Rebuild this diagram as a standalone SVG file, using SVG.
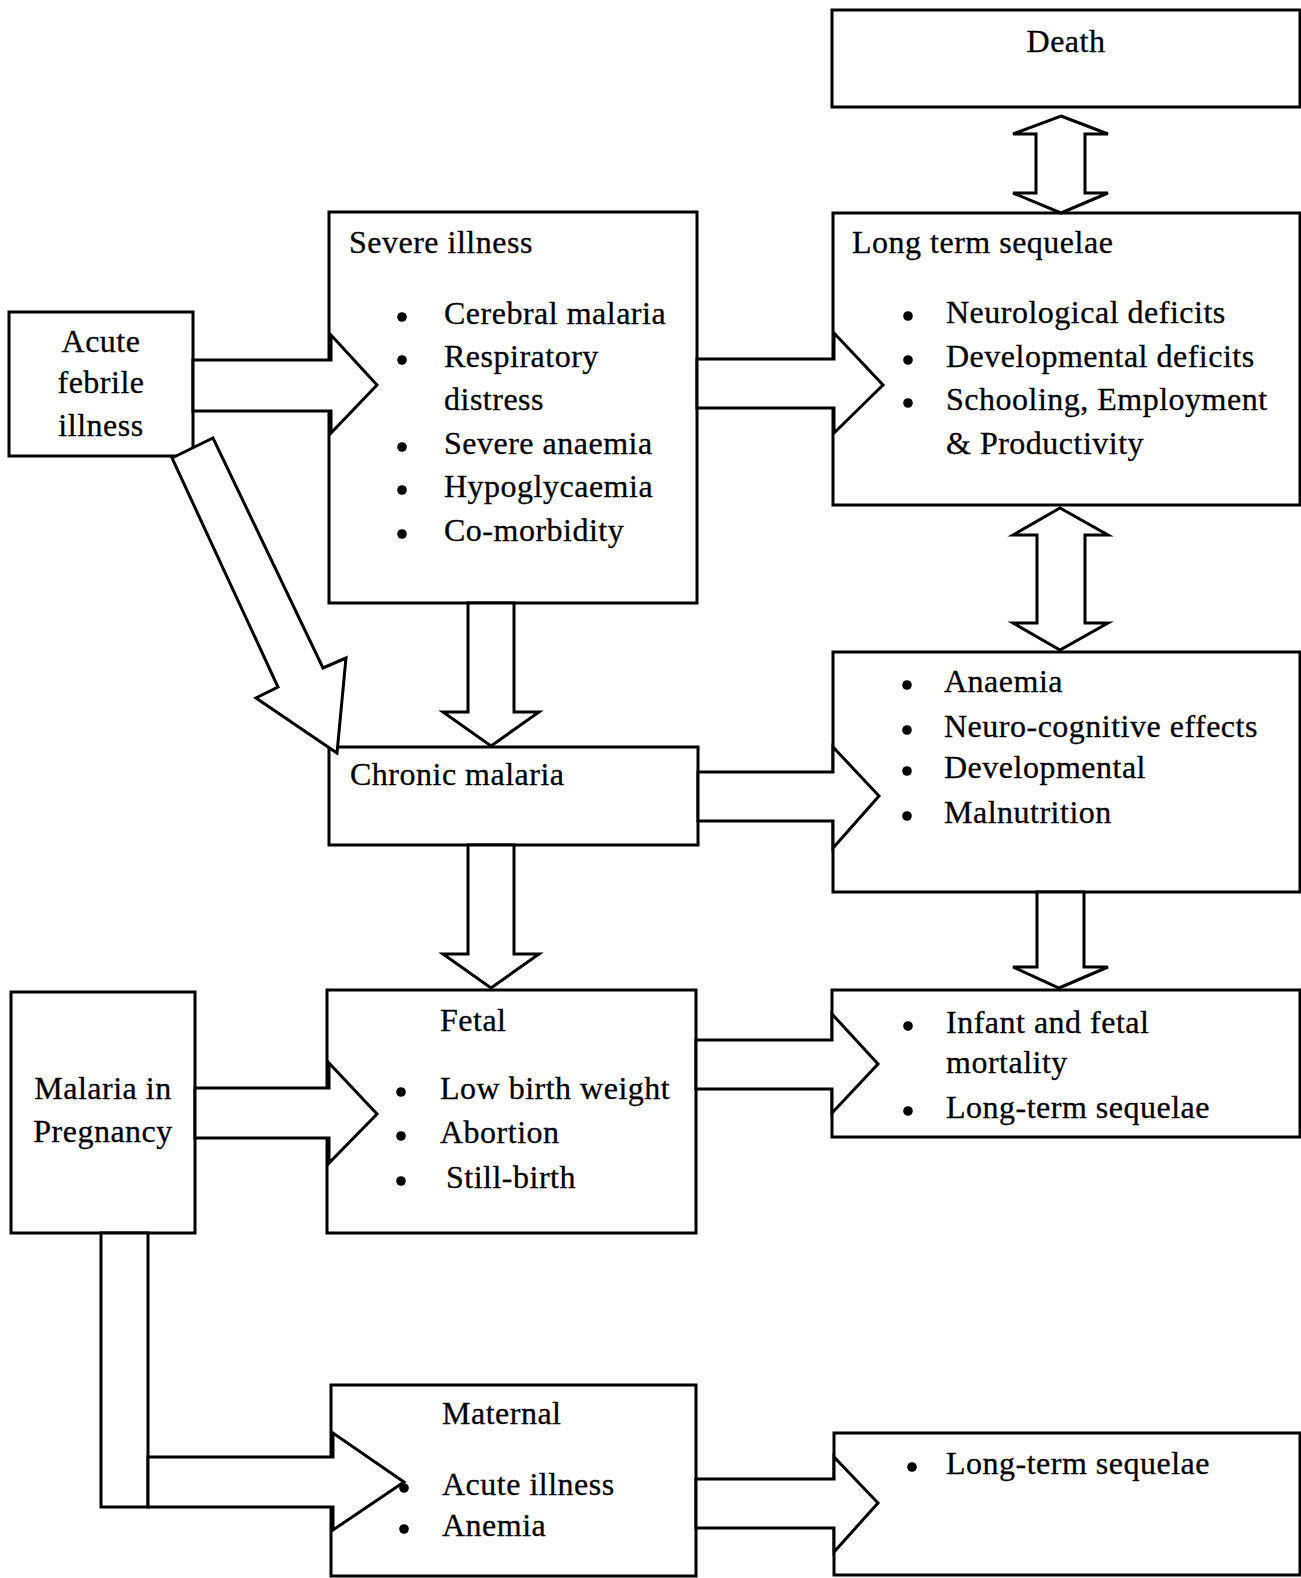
<svg xmlns="http://www.w3.org/2000/svg" width="1301" height="1578" viewBox="0 0 1301 1578">
<style>
.box{fill:#fff;stroke:#000;stroke-width:3}
.arr{fill:#fff;stroke:#000;stroke-width:3;stroke-linejoin:miter}
text{font-family:"Liberation Serif","Times New Roman",serif;font-size:32px;fill:#000;letter-spacing:0.5px;stroke:#000;stroke-width:0.3}
.c{text-anchor:middle}
.dot{fill:#000}
</style>
<rect width="1301" height="1578" fill="#fff"/>
<g id="death"><rect class="box" x="832" y="10" width="468" height="97"/><text class="c" x="1066" y="52">Death</text></g>
<g id="severe"><rect class="box" x="329" y="212" width="368" height="391"/>
<text x="349" y="253">Severe illness</text>
<circle class="dot" cx="402" cy="317" r="4.8"/><text x="444" y="324">Cerebral malaria</text>
<circle class="dot" cx="402" cy="360" r="4.8"/><text x="444" y="367">Respiratory</text>
<text x="444" y="410">distress</text>
<circle class="dot" cx="402" cy="447" r="4.8"/><text x="444" y="454">Severe anaemia</text>
<circle class="dot" cx="402" cy="490" r="4.8"/><text x="444" y="497">Hypoglycaemia</text>
<circle class="dot" cx="402" cy="534" r="4.8"/><text x="444" y="541">Co-morbidity</text>
</g>
<g id="lts"><rect class="box" x="833" y="213" width="467" height="292"/>
<text x="852" y="253">Long term sequelae</text>
<circle class="dot" cx="908" cy="316" r="4.8"/><text x="946" y="323">Neurological deficits</text>
<circle class="dot" cx="908" cy="360" r="4.8"/><text x="946" y="367">Developmental deficits</text>
<circle class="dot" cx="908" cy="403" r="4.8"/><text x="946" y="410">Schooling, Employment</text>
<text x="946" y="454">&amp; Productivity</text>
</g>
<g id="acute"><rect class="box" x="9" y="312" width="184" height="144"/>
<text class="c" x="101" y="352">Acute</text><text class="c" x="101" y="393">febrile</text><text class="c" x="101" y="436">illness</text>
</g>
<g id="chronic"><rect class="box" x="329" y="747" width="369" height="98"/><text x="350" y="785">Chronic malaria</text></g>
<g id="effects"><rect class="box" x="833" y="652" width="467" height="240"/>
<circle class="dot" cx="907" cy="685" r="4.8"/><text x="944" y="692">Anaemia</text>
<circle class="dot" cx="907" cy="730" r="4.8"/><text x="944" y="737">Neuro-cognitive effects</text>
<circle class="dot" cx="907" cy="771" r="4.8"/><text x="944" y="778">Developmental</text>
<circle class="dot" cx="907" cy="816" r="4.8"/><text x="944" y="823">Malnutrition</text>
</g>
<g id="malaria-preg"><rect class="box" x="11" y="992" width="184" height="241"/>
<text class="c" x="103" y="1099">Malaria in</text><text class="c" x="103" y="1142">Pregnancy</text>
</g>
<g id="fetal"><rect class="box" x="327" y="990" width="369" height="243"/>
<text x="440" y="1031">Fetal</text>
<circle class="dot" cx="401" cy="1092" r="4.8"/><text x="440" y="1099">Low birth weight</text>
<circle class="dot" cx="401" cy="1136" r="4.8"/><text x="440" y="1143">Abortion</text>
<circle class="dot" cx="401" cy="1181" r="4.8"/><text x="446" y="1188">Still-birth</text>
</g>
<g id="infant"><rect class="box" x="832" y="990" width="468" height="147"/>
<circle class="dot" cx="908" cy="1026" r="4.8"/><text x="946" y="1033">Infant and fetal</text>
<text x="946" y="1073">mortality</text>
<circle class="dot" cx="908" cy="1111" r="4.8"/><text x="946" y="1118">Long-term sequelae</text>
</g>
<g id="maternal"><rect class="box" x="331" y="1385" width="365" height="191"/>
<text x="442" y="1424">Maternal</text>
<text x="442" y="1495">Acute illness</text>
<circle class="dot" cx="404" cy="1529" r="4.8"/><text x="442" y="1536">Anemia</text>
</g>
<g id="maternal-lt"><rect class="box" x="834" y="1433" width="466" height="142"/>
<circle class="dot" cx="912" cy="1467" r="4.8"/><text x="946" y="1474">Long-term sequelae</text>
</g>
<g id="connectors">
<polygon class="arr" points="193,360 331,360 331,335 377,385 331,433 331,411 193,411"/>
<polygon class="arr" points="697,359 834,359 834,333 883,385 834,433 834,408 697,408"/>
<polygon class="arr" points="172,458 213,438 323,668 346,658 337,753 256,698 278,687"/>
<polygon class="arr" points="468,603 468,712 443,712 491,746 539,712 514,712 514,603"/>
<polygon class="arr" points="468,845 468,954 443,954 491,988 539,954 514,954 514,845"/>
<polygon class="arr" points="698,772 833,772 833,747 879,796 833,848 833,821 698,821"/>
<polygon class="arr" points="1061,116 1108,134 1085,134 1085,193 1108,193 1061,213 1013,193 1036,193 1036,134 1013,134"/>
<polygon class="arr" points="1060,508 1108,535 1085,535 1085,623 1108,623 1060,650 1013,623 1037,623 1037,535 1013,535"/>
<polygon class="arr" points="1037,892 1037,967 1013,967 1059,988 1108,967 1084,967 1084,892"/>
<polygon class="arr" points="696,1040 832,1040 832,1014 878,1064 832,1113 832,1089 696,1089"/>
<polygon class="arr" points="195,1088 329,1088 329,1063 377,1114 329,1163 329,1138 195,1138"/>
<rect class="arr" x="101" y="1233" width="47" height="274"/>
<polygon class="arr" points="148,1457 333,1457 333,1433 404,1482 333,1530 333,1507 148,1507"/>
<polygon class="arr" points="696,1479 834,1479 834,1457 878,1503 834,1552 834,1528 696,1528"/>
</g>
<circle class="dot" cx="404" cy="1488" r="4.8"/>
</svg>
